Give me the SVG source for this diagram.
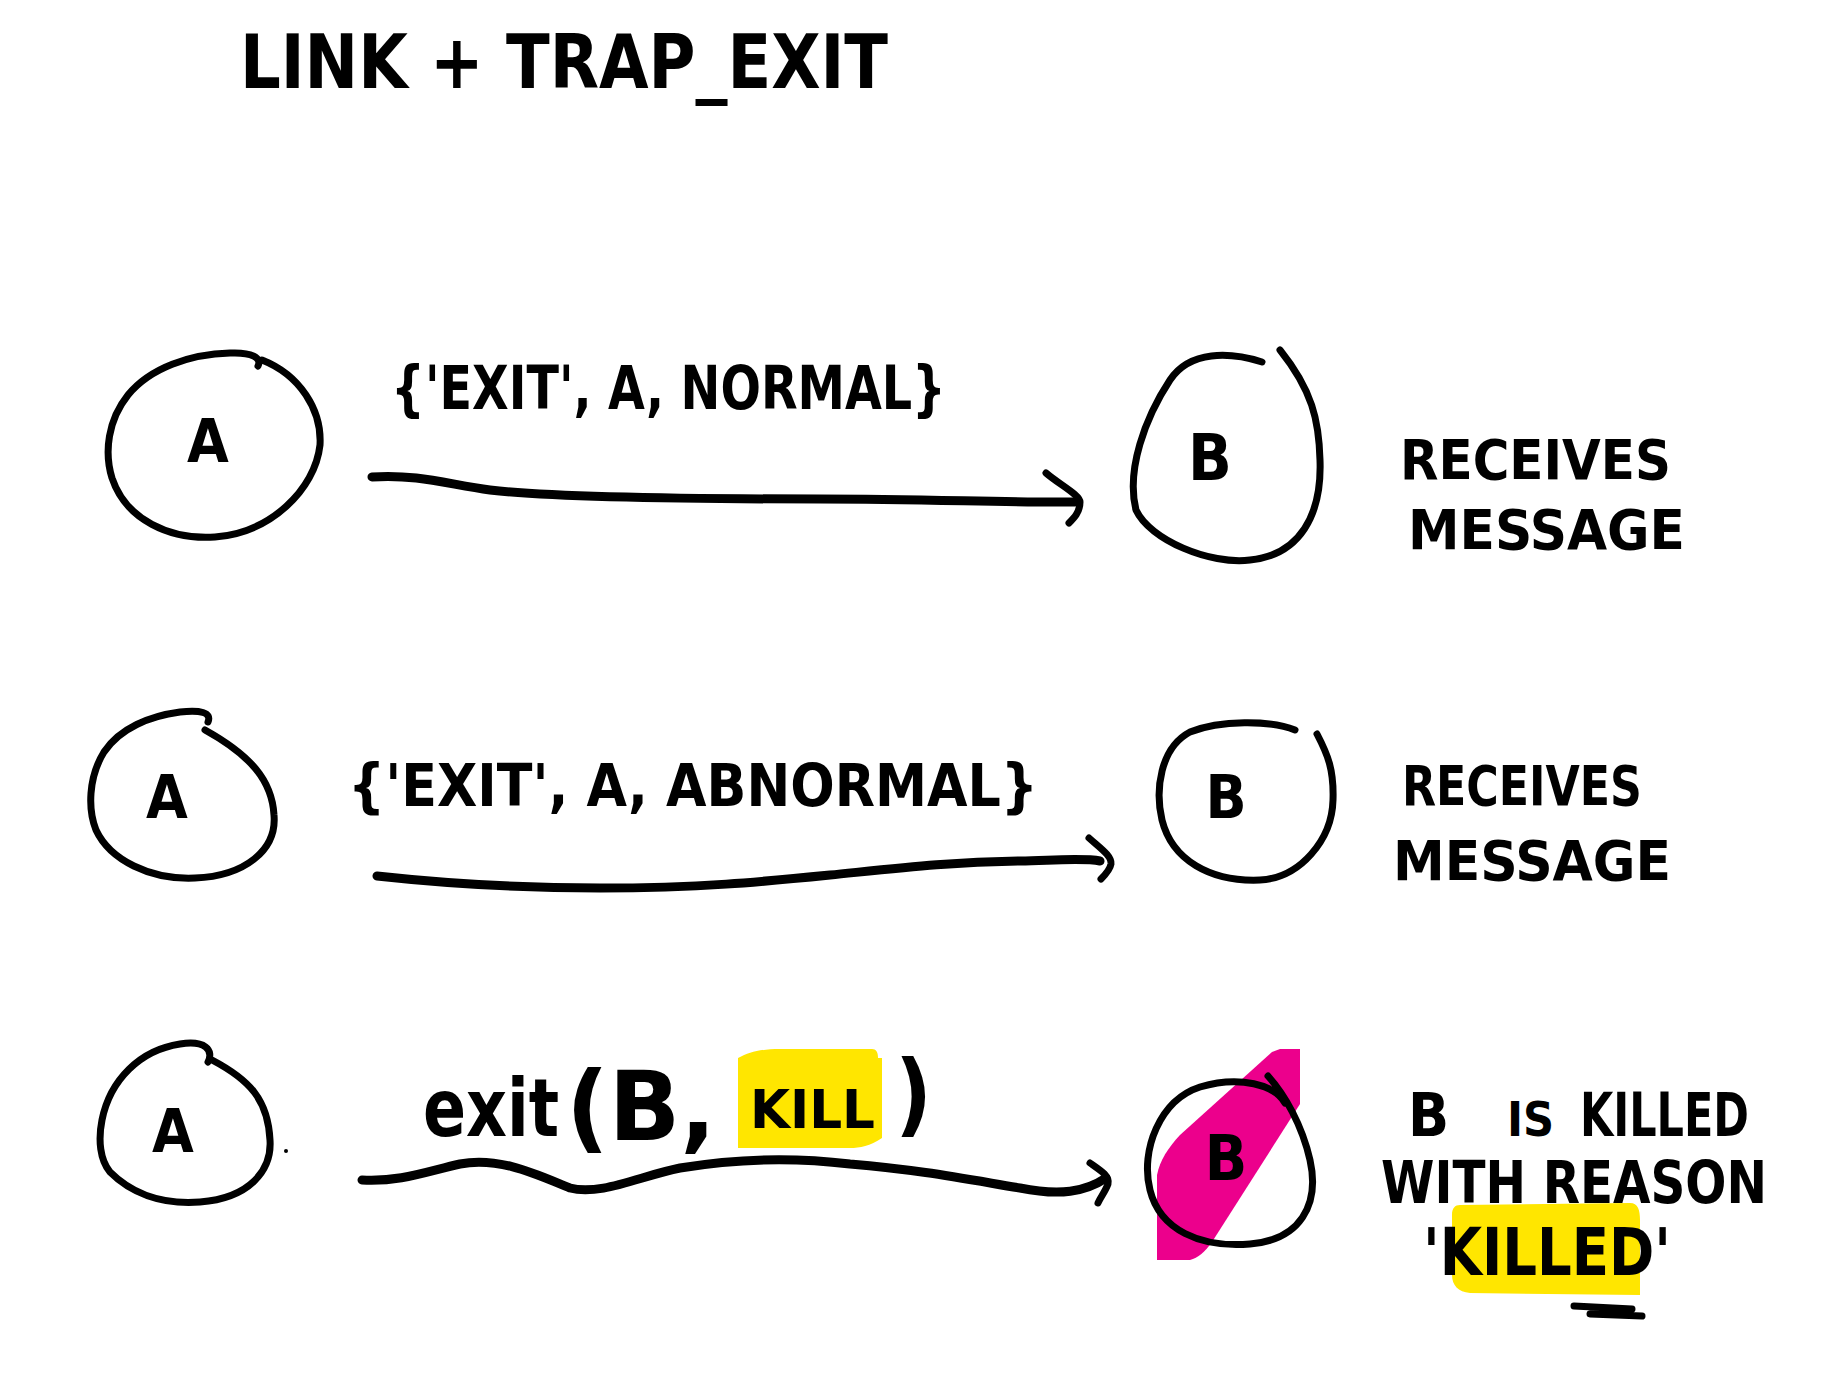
<svg xmlns="http://www.w3.org/2000/svg" width="1832" height="1376" viewBox="0 0 1832 1376">
<style>
.ink{fill:none;stroke:#000;stroke-width:7;stroke-linecap:round;stroke-linejoin:round}
.wire{fill:none;stroke:#000;stroke-width:9;stroke-linecap:round;stroke-linejoin:round}
.t{font-family:"Liberation Sans Narrow","DejaVu Sans Condensed","Liberation Sans",sans-serif;font-weight:bold;fill:#000}
.hl{fill:#FFE600}
</style>
<rect width="1832" height="1376" fill="#fff"/>
<g id="title">
<text class="t" x="240" y="88" font-size="74" textLength="648" lengthAdjust="spacingAndGlyphs">LINK + TRAP_EXIT</text>
</g>
<g id="row1-A">
<path class="ink" d="M258,366 C262,358 252,352 230,353 C190,354 150,368 128,395 C108,420 104,452 112,478 C126,520 170,540 215,537 C270,533 315,490 320,445 C322,410 300,375 262,360"/>
<text class="t" x="208" y="462" font-size="60" text-anchor="middle">A</text>
</g>
<g id="row1-B">
<path class="ink" d="M1262,362 C1230,352 1190,350 1170,380 C1145,418 1126,470 1136,510 C1150,540 1210,565 1250,560 C1300,555 1322,515 1320,460 C1319,420 1312,390 1280,350"/>
<text class="t" x="1210" y="480" font-size="64" text-anchor="middle">B</text>
</g>
<g id="row1-note">
<text class="t" x="1400" y="479" font-size="56" textLength="271" lengthAdjust="spacingAndGlyphs">RECEIVES</text>
<text class="t" x="1408" y="549" font-size="56" textLength="277" lengthAdjust="spacingAndGlyphs">MESSAGE</text>
</g>
<g id="row2-A">
<path class="ink" d="M208,722 C212,712 200,710 180,712 C150,716 120,728 104,752 C88,778 88,810 96,830 C110,860 150,880 195,878 C245,876 277,850 274,815 C272,780 250,755 205,730"/>
<text class="t" x="167" y="818" font-size="60" text-anchor="middle">A</text>
</g>
<g id="row2-B">
<path class="ink" d="M1295,730 C1270,720 1220,720 1190,732 C1160,748 1155,790 1162,820 C1172,860 1210,882 1260,880 C1300,878 1332,840 1333,800 C1334,770 1328,755 1317,734"/>
<text class="t" x="1226" y="818" font-size="60" text-anchor="middle">B</text>
</g>
<g id="row2-note">
<text class="t" x="1402" y="805" font-size="56" textLength="240" lengthAdjust="spacingAndGlyphs">RECEIVES</text>
<text class="t" x="1393" y="880" font-size="56" textLength="278" lengthAdjust="spacingAndGlyphs">MESSAGE</text>
</g>
<g id="row3-A">
<path class="ink" d="M208,1062 C214,1050 205,1040 180,1044 C140,1050 110,1080 102,1120 C98,1140 100,1160 110,1172 C130,1192 160,1205 200,1202 C250,1198 272,1170 270,1140 C268,1100 250,1080 212,1060"/>
<text class="t" x="173" y="1152" font-size="60" text-anchor="middle">A</text>
<circle cx="286" cy="1151" r="2" fill="#000"/>
</g>
<g id="row3-B">
<path d="M1157,1260 L1157,1175 C1160,1160 1168,1148 1180,1135 L1272,1052 L1280,1049 L1300,1049 L1300,1104 L1212,1242 C1205,1252 1198,1258 1190,1260 Z" fill="#EC008C"/>
<path class="ink" d="M1268,1076 C1285,1095 1302,1125 1310,1160 C1320,1205 1300,1240 1250,1244 C1200,1248 1160,1230 1150,1190 C1140,1150 1160,1100 1200,1087 C1240,1075 1275,1085 1285,1103"/>
<text class="t" x="1226" y="1180" font-size="62" text-anchor="middle">B</text>
</g>
<g id="row3-note">
<text class="t" y="1136" font-size="60"><tspan x="1408">B</tspan><tspan x="1507" font-size="48">IS</tspan><tspan x="1580" textLength="169" lengthAdjust="spacingAndGlyphs">KILLED</tspan></text>
<text class="t" x="1381" y="1203" font-size="58" textLength="386" lengthAdjust="spacingAndGlyphs">WITH REASON</text>
<path class="hl" d="M1460,1205 L1630,1203 C1638,1203 1640,1210 1640,1220 L1640,1295 L1470,1293 C1458,1292 1452,1285 1452,1275 L1452,1215 C1452,1208 1455,1205 1460,1205 Z"/>
<text class="t" x="1423" y="1275" font-size="66" textLength="248" lengthAdjust="spacingAndGlyphs">'KILLED'</text>
<path class="ink" d="M1574,1306 L1632,1309 M1590,1314 L1642,1316"/>
</g>
<g id="labels">
<text class="t" x="391" y="409" font-size="60" textLength="555" lengthAdjust="spacingAndGlyphs">{'EXIT', A, NORMAL}</text>
<text class="t" x="348" y="806" font-size="58" textLength="690" lengthAdjust="spacingAndGlyphs">{'EXIT', A, ABNORMAL}</text>
<path class="hl" d="M738,1058 C750,1052 760,1049 780,1049 L872,1049 C876,1049 878,1052 878,1058 L882,1058 L882,1138 C870,1146 860,1148 850,1148 L738,1148 Z"/>
<text class="t" y="1136" font-size="96"><tspan x="423" font-size="80" textLength="136" lengthAdjust="spacingAndGlyphs">exit</tspan><tspan x="566" y="1140" textLength="150" lengthAdjust="spacingAndGlyphs">(B,</tspan><tspan x="750" y="1128" font-size="54" textLength="125" lengthAdjust="spacingAndGlyphs">KILL</tspan><tspan x="895" y="1125" font-size="90">)</tspan></text>
</g>
<g id="connectors">
<path class="wire" d="M372,477 C420,474 450,485 490,490 C560,498 700,499 820,499 C930,499 1010,503 1075,502"/>
<path class="ink" d="M1046,473 C1060,485 1080,495 1080,502 C1080,512 1074,518 1069,523"/>
<path class="wire" d="M377,876 C450,884 520,888 600,888 C700,888 760,882 830,875 C900,868 950,862 1020,861 C1060,860 1085,858 1100,861"/>
<path class="ink" d="M1089,838 C1100,848 1112,856 1111,864 C1110,870 1104,876 1101,879"/>
<path class="wire" d="M362,1180 C400,1182 425,1172 460,1164 C500,1156 540,1176 570,1188 C600,1196 640,1176 680,1168 C740,1158 800,1158 850,1164 C920,1170 960,1178 1020,1188 C1060,1196 1085,1192 1106,1178"/>
<path class="ink" d="M1090,1163 C1100,1170 1110,1176 1108,1184 C1105,1192 1100,1198 1098,1203"/>
</g>
</svg>
